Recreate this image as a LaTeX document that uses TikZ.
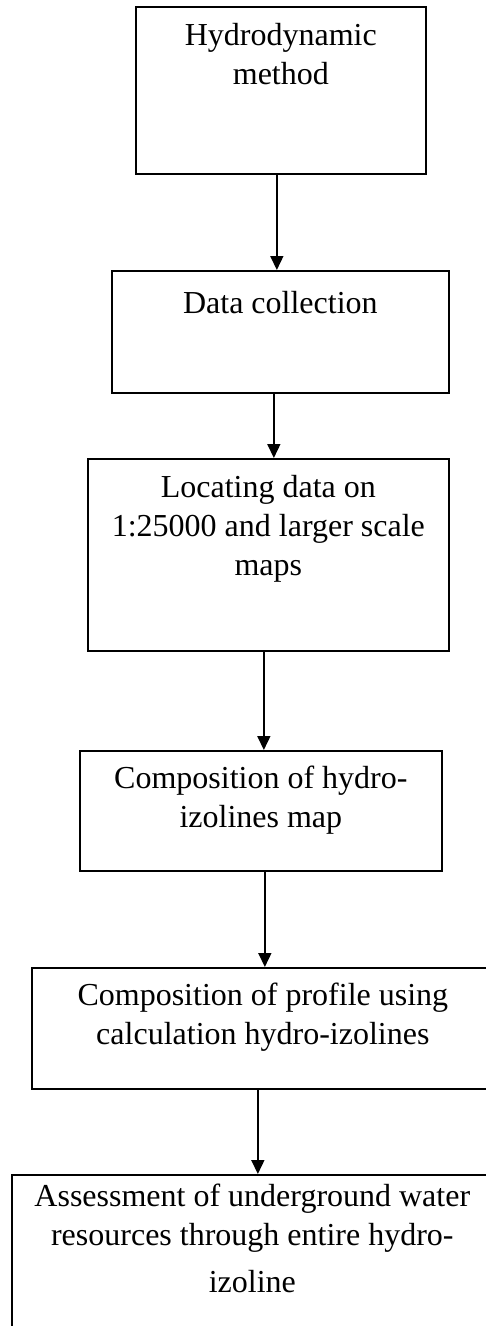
\documentclass[tikz,border=0pt]{standalone}
\usepackage{fontspec}
\setmainfont{Liberation Serif}
\usetikzlibrary{positioning,arrows.meta}

\begin{document}
\begin{tikzpicture}[x=1pt,y=1pt,
  stepbox/.style={draw,line width=1.7pt,anchor=north west,inner sep=0pt},
  steptext/.style={anchor=north,inner sep=0pt,align=center,font=\fontsize{32}{39}\selectfont},
  arr/.style={-{Triangle[width=13pt,length=14pt]},line width=1.6pt}]
% Frame
\useasboundingbox (0,0) rectangle (485,-1326);

% Boxes
\node[stepbox,minimum width=290pt,minimum height=167pt] (hydro) at (135,-6) {};
\node[stepbox,minimum width=337pt,minimum height=122pt] (data) at (111,-270) {};
\node[stepbox,minimum width=361pt,minimum height=192pt] (locate) at (87,-458) {};
\node[stepbox,minimum width=362pt,minimum height=120pt] (compmap) at (79,-750) {};
\node[stepbox,minimum width=462pt,minimum height=121pt] (profile) at (31,-967) {};
\node[stepbox,minimum width=481pt,minimum height=200pt] (assess) at (11,-1174) {};

% Texts
\node[steptext,below=17pt of hydro.north] (hydrotxt) {Hydrodynamic\\method};
\node[steptext,below=21pt of data.north] (datatxt) {Data collection};
\node[steptext,below=17pt of locate.north] (locatetxt) {Locating data on\\1:25000 and larger scale\\maps};
\node[steptext,below=16pt of compmap.north] (compmaptxt) {Composition of hydro-\\izolines map};
\node[steptext,below=16pt of profile.north] (profiletxt) {Composition of profile using\\calculation hydro-izolines};
\node[steptext,below=10pt of assess.north] (assesstxt) {Assessment of underground water\\resources through entire hydro-\\[8pt]izoline};

% Arrows
\draw[arr] ([xshift=-4pt]hydro.south) -- ([xshift=-4pt]hydro.south |- data.north);
\draw[arr] ([xshift=-6.5pt]data.south) -- ([xshift=-6.5pt]data.south |- locate.north);
\draw[arr] ([xshift=-4.5pt]locate.south) -- ([xshift=-4.5pt]locate.south |- compmap.north);
\draw[arr] ([xshift=4pt]compmap.south) -- ([xshift=4pt]compmap.south |- profile.north);
\draw[arr] ([xshift=-5pt]profile.south) -- ([xshift=-5pt]profile.south |- assess.north);
\end{tikzpicture}
\end{document}
